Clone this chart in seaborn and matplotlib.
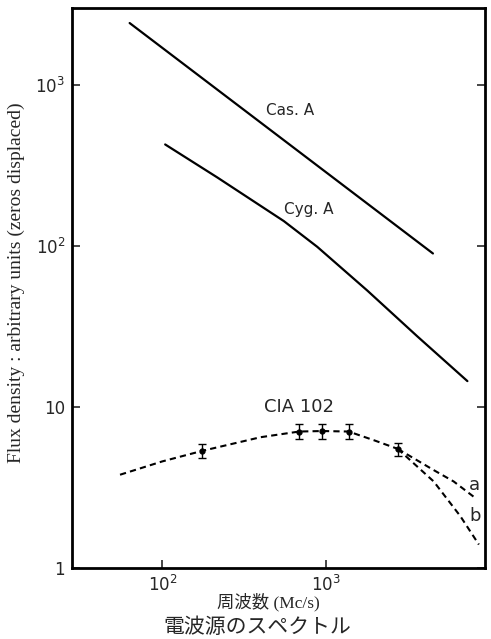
import numpy as np
import pandas as pd
import seaborn as sns
import matplotlib.pyplot as plt

# Cas. A (straight power law)
cas_freq = [63, 4550]
cas_flux = [2430, 90]

# Cyg. A (slightly curved)
cyg_freq = [104, 217, 555, 889, 1800, 3650, 7400]
cyg_flux = [428, 267, 143, 99, 53, 27.5, 14.5]

# CTA 102 main dashed curve
cta_freq = [55, 100, 176, 400, 690, 955, 1385, 2000, 2770]
cta_flux = [3.8, 4.6, 5.35, 6.5, 7.05, 7.1, 7.05, 6.2, 5.5]

# branches a and b
a_freq = [2770, 4600, 6100, 8100]
a_flux = [5.5, 4.06, 3.45, 2.77]
b_freq = [2770, 4600, 6700, 8700]
b_flux = [5.5, 3.45, 2.1, 1.4]

# measured points with error bars
pt_freq = [176, 690, 955, 1385, 2770]
pt_flux = [5.35, 7.05, 7.1, 7.05, 5.5]
pt_err = [0.55, 0.75, 0.75, 0.75, 0.5]

sns.set_style("ticks")
plt.rcParams["font.family"] = ["Liberation Serif", "Noto Sans CJK JP"]

fig = plt.figure(figsize=(4.91, 6.39), dpi=100)
ax = fig.add_axes([0.147, 0.111, 0.841, 0.876])

sns.lineplot(x=cas_freq, y=cas_flux, color="black", lw=1.6, ax=ax)
sns.lineplot(x=cyg_freq, y=cyg_flux, color="black", lw=1.6, ax=ax)
for fx, fy in [(cta_freq, cta_flux), (a_freq, a_flux), (b_freq, b_flux)]:
    sns.lineplot(x=fx, y=fy, color="black", lw=1.5, ax=ax,
                 linestyle=(0, (3, 2)))
ax.errorbar(pt_freq, pt_flux, yerr=pt_err, fmt="o", ms=3.5, color="black",
            capsize=3, elinewidth=1, capthick=1)

ax.set_xscale("log")
ax.set_yscale("log")
ax.set_xlim(28, 9500)
ax.set_ylim(1, 3000)

ax.set_xticks([100, 1000])
ax.set_xticklabels(["$10^2$", "$10^3$"])
ax.set_yticks([1, 10, 100, 1000])
ax.set_yticklabels(["1", "10", "$10^2$", "$10^3$"])
ax.minorticks_off()
ax.tick_params(direction="in", length=6, width=1.2, labelsize=12,
               top=False, right=True, pad=5)
for lab in ax.get_xticklabels() + ax.get_yticklabels():
    lab.set_family(["DejaVu Sans"])
for s in ax.spines.values():
    s.set_linewidth(2)
    s.set_color("black")

tfont = ["DejaVu Sans"]
ax.text(610, 700, "Cas. A", fontsize=11, family=tfont, ha="center", va="center")
ax.text(790, 170, "Cyg. A", fontsize=11, family=tfont, ha="center", va="center")
ax.text(690, 10, "CIA 102", fontsize=13, family=tfont, ha="center", va="center")
ax.text(8200, 3.3, "a", fontsize=13, family=tfont, ha="center", va="center")
ax.text(8200, 2.1, "b", fontsize=13, family=tfont, ha="center", va="center")

ax.set_ylabel("Flux density : arbitrary units (zeros displaced)", fontsize=14)
ax.yaxis.set_label_coords(-0.115, 0.51)
ax.set_xlabel("周波数 (Mc/s)", fontsize=12.5, va="center")
ax.xaxis.set_label_coords(0.475, -0.061)
fig.text(0.525, 0.019, "電波源のスペクトル", fontsize=15, ha="center",
         va="center", family=["Noto Sans CJK JP"])

fig.savefig("out.png", dpi=100)
